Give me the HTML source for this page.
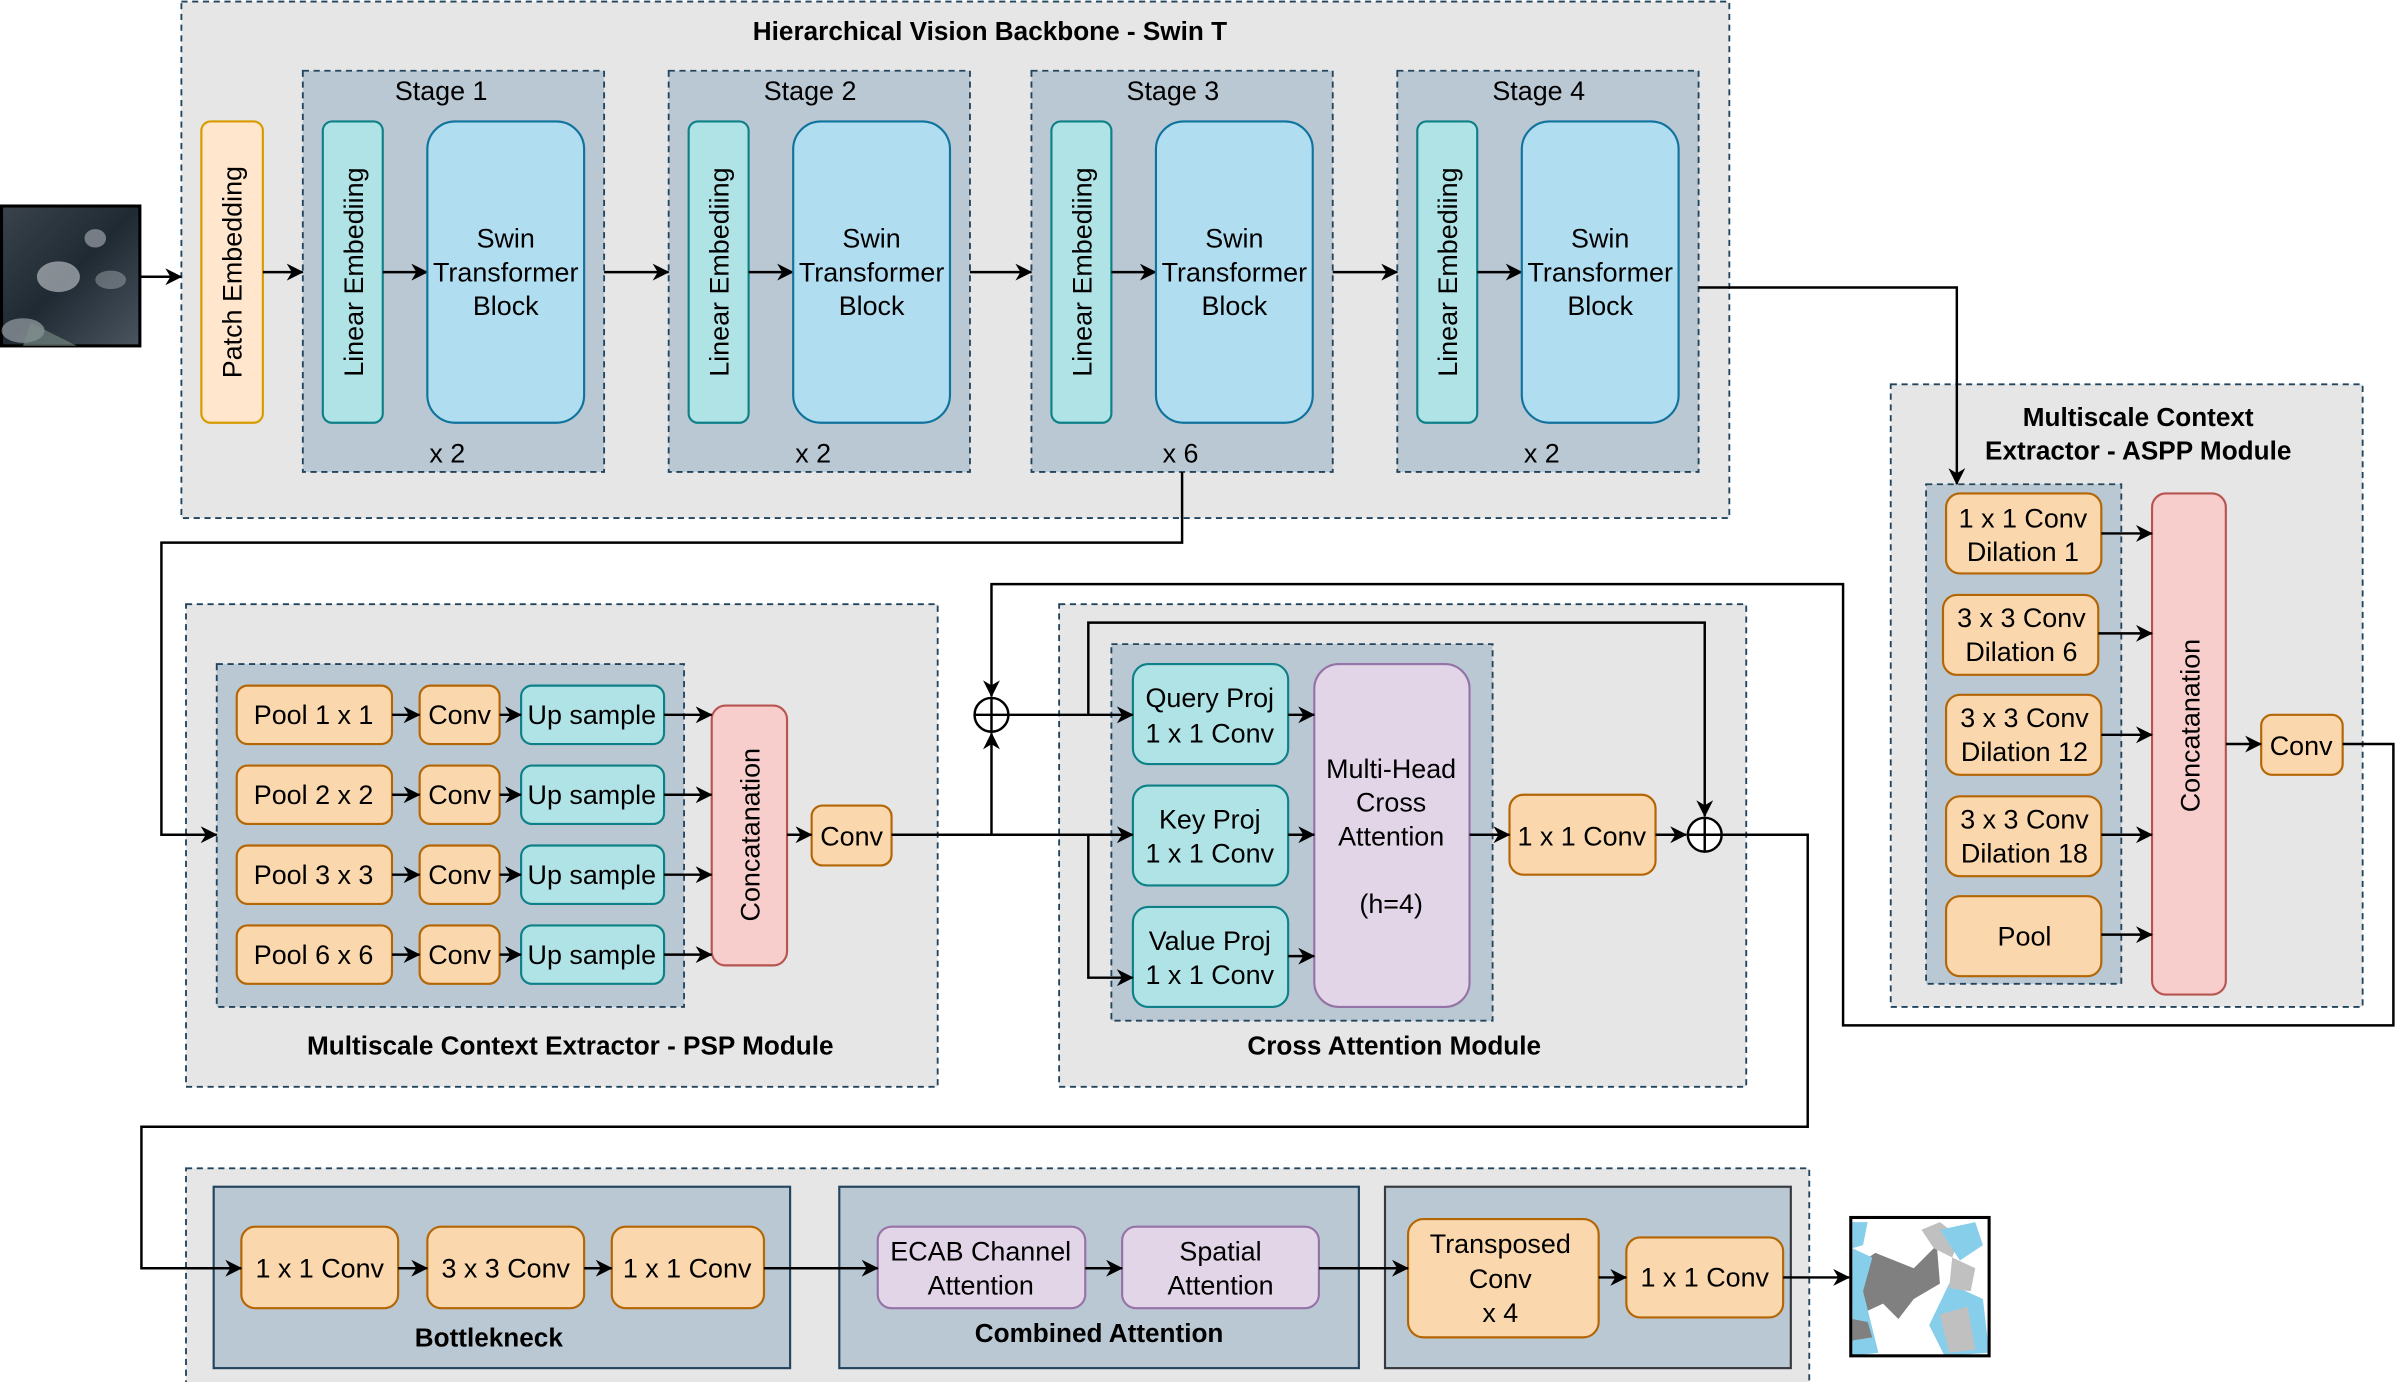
<!DOCTYPE html>
<html><head><meta charset="utf-8"><style>
html,body{margin:0;padding:0;background:#fff;}
svg{display:block;}
text{font-family:"Liberation Sans",Arial,sans-serif;fill:#000;}
.t{font-size:17.5px;text-anchor:middle;}
.b{font-size:17px;font-weight:bold;text-anchor:middle;}
.ln{fill:none;stroke:#000;stroke-width:1.6;}
.cont{fill:#e6e6e6;stroke:#23445d;stroke-width:1.2;stroke-dasharray:4 3;}
.stg{fill:#bac8d3;stroke:#23445d;stroke-width:1.2;stroke-dasharray:4 3;}
.or{fill:#fad7ac;stroke:#b46504;stroke-width:1.4;}
.te{fill:#b0e3e6;stroke:#0e8088;stroke-width:1.4;}
.bl{fill:#b1ddf0;stroke:#10739e;stroke-width:1.4;}
.pu{fill:#e1d5e7;stroke:#9673a6;stroke-width:1.4;}
.rd{fill:#f8cecc;stroke:#b85450;stroke-width:1.4;}
</style></head><body>
<svg width="2398" height="1382" viewBox="0 0 1560 899" xmlns="http://www.w3.org/2000/svg">
<defs>
<marker id="a" viewBox="0 0 10 10" refX="9.5" refY="5" markerWidth="11" markerHeight="11" markerUnits="userSpaceOnUse" orient="auto"><path d="M0,0 L10,5 L0,10 L3,5 z" fill="#000"/></marker>
<linearGradient id="sat" x1="0" y1="0" x2="1" y2="1"><stop offset="0" stop-color="#3a434c"/><stop offset="0.5" stop-color="#1f2a33"/><stop offset="1" stop-color="#4a5560"/></linearGradient>
</defs>

<rect class="cont" x="118" y="1" width="1007" height="336"/>
<text class="b" x="644" y="26">Hierarchical Vision Backbone - Swin T</text>

<rect x="1" y="134" width="90" height="91" fill="url(#sat)" stroke="#000" stroke-width="2"/>
<ellipse cx="38" cy="180" rx="14" ry="10" fill="#c9ced3" opacity="0.6"/>
<ellipse cx="62" cy="155" rx="7" ry="6" fill="#c9ced3" opacity="0.5"/>
<ellipse cx="72" cy="182" rx="10" ry="6" fill="#b8bec4" opacity="0.4"/>
<ellipse cx="15" cy="215" rx="14" ry="8" fill="#c9ced3" opacity="0.5"/>
<path d="M20,210 L50,225 L15,225 Z" fill="#7d9088" opacity="0.6"/>

<rect class="or" x="131" y="79" width="40" height="196" rx="6" style="fill:#ffe6cc;stroke:#d79b00"/>
<text class="t" transform="translate(157,177) rotate(-90)">Patch Embedding</text>

<g>
<rect class="stg" x="197" y="46" width="196" height="261"/>
<text class="t" x="287" y="65">Stage 1</text>
<rect class="te" x="210" y="79" width="39" height="196" rx="6"/>
<text class="t" transform="translate(236,177) rotate(-90)">Linear Embediing</text>
<line class="ln" x1="249" y1="177" x2="278" y2="177" marker-end="url(#a)"/>
<rect class="bl" x="278" y="79" width="102" height="196" rx="18"/>
<text class="t" x="329" y="161">Swin</text><text class="t" x="329" y="183">Transformer</text><text class="t" x="329" y="205">Block</text>
<text class="t" x="291" y="301">x 2</text>
</g>
<g transform="translate(238,0)">
<rect class="stg" x="197" y="46" width="196" height="261"/>
<text class="t" x="289" y="65">Stage 2</text>
<rect class="te" x="210" y="79" width="39" height="196" rx="6"/>
<text class="t" transform="translate(236,177) rotate(-90)">Linear Embediing</text>
<line class="ln" x1="249" y1="177" x2="278" y2="177" marker-end="url(#a)"/>
<rect class="bl" x="278" y="79" width="102" height="196" rx="18"/>
<text class="t" x="329" y="161">Swin</text><text class="t" x="329" y="183">Transformer</text><text class="t" x="329" y="205">Block</text>
<text class="t" x="291" y="301">x 2</text>
</g>
<g transform="translate(474,0)">
<rect class="stg" x="197" y="46" width="196" height="261"/>
<text class="t" x="289" y="65">Stage 3</text>
<rect class="te" x="210" y="79" width="39" height="196" rx="6"/>
<text class="t" transform="translate(236,177) rotate(-90)">Linear Embediing</text>
<line class="ln" x1="249" y1="177" x2="278" y2="177" marker-end="url(#a)"/>
<rect class="bl" x="278" y="79" width="102" height="196" rx="18"/>
<text class="t" x="329" y="161">Swin</text><text class="t" x="329" y="183">Transformer</text><text class="t" x="329" y="205">Block</text>
<text class="t" x="294" y="301">x 6</text>
</g>
<g transform="translate(712,0)">
<rect class="stg" x="197" y="46" width="196" height="261"/>
<text class="t" x="289" y="65">Stage 4</text>
<rect class="te" x="210" y="79" width="39" height="196" rx="6"/>
<text class="t" transform="translate(236,177) rotate(-90)">Linear Embediing</text>
<line class="ln" x1="249" y1="177" x2="278" y2="177" marker-end="url(#a)"/>
<rect class="bl" x="278" y="79" width="102" height="196" rx="18"/>
<text class="t" x="329" y="161">Swin</text><text class="t" x="329" y="183">Transformer</text><text class="t" x="329" y="205">Block</text>
<text class="t" x="291" y="301">x 2</text>
</g>

<rect class="cont" x="1230" y="250" width="307" height="405"/>
<text class="b" x="1391" y="277">Multiscale Context</text>
<text class="b" x="1391" y="299">Extractor - ASPP Module</text>
<rect class="stg" x="1253" y="315" width="127" height="325"/>
<rect class="or" x="1266" y="321" width="101" height="52" rx="9"/>
<text class="t" x="1316" y="343">1 x 1 Conv</text><text class="t" x="1316" y="365">Dilation 1</text>
<rect class="or" x="1264" y="387" width="101" height="52" rx="9"/>
<text class="t" x="1315" y="408">3 x 3 Conv</text><text class="t" x="1315" y="430">Dilation 6</text>
<rect class="or" x="1266" y="452" width="101" height="52" rx="9"/>
<text class="t" x="1317" y="473">3 x 3 Conv</text><text class="t" x="1317" y="495">Dilation 12</text>
<rect class="or" x="1266" y="518" width="101" height="52" rx="9"/>
<text class="t" x="1317" y="539">3 x 3 Conv</text><text class="t" x="1317" y="561">Dilation 18</text>
<rect class="or" x="1266" y="583" width="101" height="52" rx="9"/>
<text class="t" x="1317" y="615">Pool</text>
<rect class="rd" x="1400" y="321" width="48" height="326" rx="9"/>
<text class="t" transform="translate(1431,472) rotate(-90)">Concatanation</text>
<rect class="or" x="1471" y="465" width="53" height="39" rx="7"/>
<text class="t" x="1497" y="491">Conv</text>

<rect class="cont" x="121" y="393" width="489" height="314"/>
<text class="b" x="371" y="686">Multiscale Context Extractor - PSP Module</text>
<rect class="stg" x="141" y="432" width="304" height="223"/>
<rect class="or" x="154" y="446" width="101" height="38" rx="7"/><text class="t" x="204" y="471">Pool 1 x 1</text>
<rect class="or" x="154" y="498" width="101" height="38" rx="7"/><text class="t" x="204" y="523">Pool 2 x 2</text>
<rect class="or" x="154" y="550" width="101" height="38" rx="7"/><text class="t" x="204" y="575">Pool 3 x 3</text>
<rect class="or" x="154" y="602" width="101" height="38" rx="7"/><text class="t" x="204" y="627">Pool 6 x 6</text>
<rect class="or" x="273" y="446" width="52" height="38" rx="7"/><text class="t" x="299" y="471">Conv</text>
<rect class="or" x="273" y="498" width="52" height="38" rx="7"/><text class="t" x="299" y="523">Conv</text>
<rect class="or" x="273" y="550" width="52" height="38" rx="7"/><text class="t" x="299" y="575">Conv</text>
<rect class="or" x="273" y="602" width="52" height="38" rx="7"/><text class="t" x="299" y="627">Conv</text>
<rect class="te" x="339" y="446" width="93" height="38" rx="7"/><text class="t" x="385" y="471">Up sample</text>
<rect class="te" x="339" y="498" width="93" height="38" rx="7"/><text class="t" x="385" y="523">Up sample</text>
<rect class="te" x="339" y="550" width="93" height="38" rx="7"/><text class="t" x="385" y="575">Up sample</text>
<rect class="te" x="339" y="602" width="93" height="38" rx="7"/><text class="t" x="385" y="627">Up sample</text>
<rect class="rd" x="463" y="459" width="49" height="169" rx="9"/>
<text class="t" transform="translate(494,543) rotate(-90)">Concatanation</text>
<rect class="or" x="528" y="524" width="52" height="39" rx="7"/><text class="t" x="554" y="550">Conv</text>

<rect class="cont" x="689" y="393" width="447" height="314"/>
<text class="b" x="907" y="686">Cross Attention Module</text>
<rect class="stg" x="723" y="419" width="248" height="245"/>
<rect class="te" x="737" y="432" width="101" height="65" rx="10"/>
<text class="t" x="787" y="460">Query Proj</text><text class="t" x="787" y="483">1 x 1 Conv</text>
<rect class="te" x="737" y="511" width="101" height="65" rx="10"/>
<text class="t" x="787" y="539">Key Proj</text><text class="t" x="787" y="561">1 x 1 Conv</text>
<rect class="te" x="737" y="590" width="101" height="65" rx="10"/>
<text class="t" x="787" y="618">Value Proj</text><text class="t" x="787" y="640">1 x 1 Conv</text>
<rect class="pu" x="855" y="432" width="101" height="223" rx="16"/>
<text class="t" x="905" y="506">Multi-Head</text><text class="t" x="905" y="528">Cross</text><text class="t" x="905" y="550">Attention</text><text class="t" x="905" y="594">(h=4)</text>
<rect class="or" x="982" y="517" width="95" height="52" rx="9"/><text class="t" x="1029" y="550">1 x 1 Conv</text>

<rect class="cont" x="121" y="760" width="1056" height="142"/>
<rect x="139" y="772" width="375" height="118" fill="#bac8d3" stroke="#23445d" stroke-width="1.4"/>
<rect class="or" x="157" y="798" width="102" height="53" rx="9"/><text class="t" x="208" y="831">1 x 1 Conv</text>
<rect class="or" x="278" y="798" width="102" height="53" rx="9"/><text class="t" x="329" y="831">3 x 3 Conv</text>
<rect class="or" x="398" y="798" width="99" height="53" rx="9"/><text class="t" x="447" y="831">1 x 1 Conv</text>
<text class="b" x="318" y="876">Bottlekneck</text>
<rect x="546" y="772" width="338" height="118" fill="#bac8d3" stroke="#23445d" stroke-width="1.4"/>
<rect class="pu" x="571" y="798" width="135" height="53" rx="9"/><text class="t" x="638" y="820">ECAB Channel</text><text class="t" x="638" y="842">Attention</text>
<rect class="pu" x="730" y="798" width="128" height="53" rx="9"/><text class="t" x="794" y="820">Spatial</text><text class="t" x="794" y="842">Attention</text>
<text class="b" x="715" y="873">Combined Attention</text>
<rect x="901" y="772" width="264" height="118" fill="#bac8d3" stroke="#36393d" stroke-width="1.4"/>
<rect class="or" x="916" y="793" width="124" height="77" rx="10"/>
<text class="t" x="976" y="815">Transposed</text><text class="t" x="976" y="838">Conv</text><text class="t" x="976" y="860">x 4</text>
<rect class="or" x="1058" y="805" width="102" height="52" rx="9"/><text class="t" x="1109" y="837">1 x 1 Conv</text>

<rect x="1204" y="792" width="90" height="90" fill="#fff"/>
<path d="M1205,795 L1215,795 L1212,810 L1205,812 Z" fill="#87ceeb"/>
<path d="M1205,825 L1220,815 L1245,825 L1260,810 L1262,835 L1245,845 L1235,858 L1225,848 L1210,855 L1205,850 Z" fill="#808080"/>
<path d="M1205,812 L1218,818 L1212,840 L1222,880 L1205,882 Z" fill="#87ceeb"/>
<path d="M1250,800 L1262,795 L1275,805 L1270,818 L1258,812 Z" fill="#c0c0c0"/>
<path d="M1262,800 L1285,795 L1290,810 L1275,820 Z" fill="#87ceeb"/>
<path d="M1268,835 L1290,845 L1294,880 L1265,882 L1255,862 Z" fill="#87ceeb"/>
<path d="M1262,855 L1280,850 L1285,878 L1268,880 Z" fill="#c0c0c0"/>
<path d="M1270,818 L1285,825 L1282,840 L1268,838 Z" fill="#c0c0c0"/>
<path d="M1205,858 L1215,860 L1218,870 L1205,872 Z" fill="#808080"/>
<rect x="1204" y="792" width="90" height="90" fill="none" stroke="#000" stroke-width="2"/>

<!-- ALL CONNECTORS (drawn on top) -->
<line class="ln" x1="91" y1="180" x2="118" y2="180" marker-end="url(#a)"/>
<line class="ln" x1="171" y1="177" x2="197" y2="177" marker-end="url(#a)"/>
<line class="ln" x1="393" y1="177" x2="435" y2="177" marker-end="url(#a)"/>
<line class="ln" x1="631" y1="177" x2="671" y2="177" marker-end="url(#a)"/>
<line class="ln" x1="867" y1="177" x2="909" y2="177" marker-end="url(#a)"/>
<polyline class="ln" points="1105,187 1273,187 1273,315" marker-end="url(#a)"/>

<line class="ln" x1="1367" y1="347" x2="1400" y2="347" marker-end="url(#a)"/>
<line class="ln" x1="1365" y1="412" x2="1400" y2="412" marker-end="url(#a)"/>
<line class="ln" x1="1367" y1="478" x2="1400" y2="478" marker-end="url(#a)"/>
<line class="ln" x1="1367" y1="543" x2="1400" y2="543" marker-end="url(#a)"/>
<line class="ln" x1="1367" y1="608" x2="1400" y2="608" marker-end="url(#a)"/>
<line class="ln" x1="1448" y1="484" x2="1471" y2="484" marker-end="url(#a)"/>
<polyline class="ln" points="1524,484 1557,484 1557,667 1199,667 1199,380 645,380 645,453" marker-end="url(#a)"/>

<polyline class="ln" points="769,307 769,353 105,353 105,543 141,543" marker-end="url(#a)"/>

<line class="ln" x1="255" y1="465" x2="273" y2="465" marker-end="url(#a)"/><line class="ln" x1="325" y1="465" x2="339" y2="465" marker-end="url(#a)"/><line class="ln" x1="432" y1="465" x2="463" y2="465" marker-end="url(#a)"/>
<line class="ln" x1="255" y1="517" x2="273" y2="517" marker-end="url(#a)"/><line class="ln" x1="325" y1="517" x2="339" y2="517" marker-end="url(#a)"/><line class="ln" x1="432" y1="517" x2="463" y2="517" marker-end="url(#a)"/>
<line class="ln" x1="255" y1="569" x2="273" y2="569" marker-end="url(#a)"/><line class="ln" x1="325" y1="569" x2="339" y2="569" marker-end="url(#a)"/><line class="ln" x1="432" y1="569" x2="463" y2="569" marker-end="url(#a)"/>
<line class="ln" x1="255" y1="621" x2="273" y2="621" marker-end="url(#a)"/><line class="ln" x1="325" y1="621" x2="339" y2="621" marker-end="url(#a)"/><line class="ln" x1="432" y1="621" x2="463" y2="621" marker-end="url(#a)"/>
<line class="ln" x1="512" y1="543" x2="528" y2="543" marker-end="url(#a)"/>

<line class="ln" x1="838" y1="465" x2="855" y2="465" marker-end="url(#a)"/>
<line class="ln" x1="838" y1="543" x2="855" y2="543" marker-end="url(#a)"/>
<line class="ln" x1="838" y1="622" x2="855" y2="622" marker-end="url(#a)"/>
<line class="ln" x1="956" y1="543" x2="982" y2="543" marker-end="url(#a)"/>
<line class="ln" x1="1077" y1="543" x2="1097" y2="543" marker-end="url(#a)"/>

<line class="ln" x1="580" y1="543" x2="737" y2="543" marker-end="url(#a)"/>
<line class="ln" x1="645" y1="543" x2="645" y2="477" marker-end="url(#a)"/>
<line class="ln" x1="656" y1="465" x2="737" y2="465" marker-end="url(#a)"/>
<polyline class="ln" points="708,543 708,636 737,636" marker-end="url(#a)"/>
<polyline class="ln" points="708,465 708,405 1109,405 1109,531" marker-end="url(#a)"/>
<polyline class="ln" points="1120,543 1176,543 1176,733 92,733 92,825 157,825" marker-end="url(#a)"/>

<circle cx="645" cy="465" r="11" fill="#fff" stroke="#000" stroke-width="1.6"/>
<line class="ln" x1="634" y1="465" x2="656" y2="465"/><line class="ln" x1="645" y1="454" x2="645" y2="476"/>
<circle cx="1109" cy="543" r="11" fill="#fff" stroke="#000" stroke-width="1.6"/>
<line class="ln" x1="1098" y1="543" x2="1120" y2="543"/><line class="ln" x1="1109" y1="532" x2="1109" y2="554"/>

<line class="ln" x1="259" y1="825" x2="278" y2="825" marker-end="url(#a)"/>
<line class="ln" x1="380" y1="825" x2="398" y2="825" marker-end="url(#a)"/>
<line class="ln" x1="497" y1="825" x2="571" y2="825" marker-end="url(#a)"/>
<line class="ln" x1="706" y1="825" x2="730" y2="825" marker-end="url(#a)"/>
<line class="ln" x1="858" y1="825" x2="916" y2="825" marker-end="url(#a)"/>
<line class="ln" x1="1040" y1="831" x2="1058" y2="831" marker-end="url(#a)"/>
<line class="ln" x1="1160" y1="831" x2="1203" y2="831" marker-end="url(#a)"/>
</svg>
</body></html>
